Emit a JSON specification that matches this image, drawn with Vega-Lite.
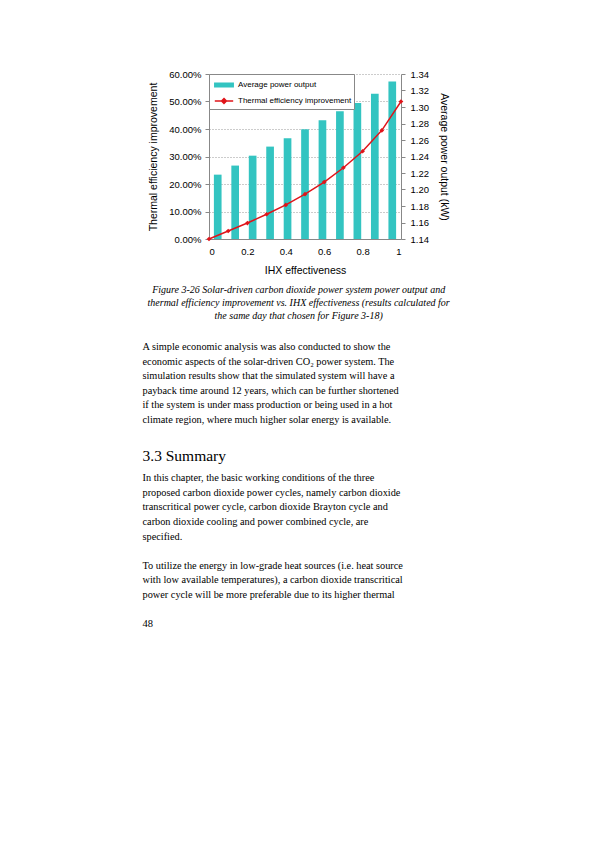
{
  "$schema": "https://vega.github.io/schema/vega-lite/v6.json",
  "background": "white",
  "padding": {"left": 142, "top": 69, "right": 0, "bottom": 0},
  "config": {"view": {"stroke": null}, "font": "Liberation Sans"},
  "datasets": {
    "ihx": [
      {"ihx": 0.0, "power": 1.218, "eff": 0.0},
      {"ihx": 0.1, "power": 1.229, "eff": 0.029},
      {"ihx": 0.2, "power": 1.241, "eff": 0.058},
      {"ihx": 0.3, "power": 1.252, "eff": 0.090},
      {"ihx": 0.4, "power": 1.262, "eff": 0.124},
      {"ihx": 0.5, "power": 1.273, "eff": 0.163},
      {"ihx": 0.6, "power": 1.284, "eff": 0.207},
      {"ihx": 0.7, "power": 1.295, "eff": 0.259},
      {"ihx": 0.8, "power": 1.305, "eff": 0.319},
      {"ihx": 0.9, "power": 1.316, "eff": 0.395},
      {"ihx": 1.0, "power": 1.331, "eff": 0.500}
    ],
    "page": [
      {"kind": "body", "line": 0, "text": "A simple economic analysis was also conducted to show the"},
      {"kind": "body", "line": 1, "text": "economic aspects of the solar-driven CO₂ power system. The"},
      {"kind": "body", "line": 2, "text": "simulation results show that the simulated system will have a"},
      {"kind": "body", "line": 3, "text": "payback time around 12 years, which can be further shortened"},
      {"kind": "body", "line": 4, "text": "if the system is under mass production or being used in a hot"},
      {"kind": "body", "line": 5, "text": "climate region, where much higher solar energy is available."},
      {"kind": "heading", "line": 7, "text": "3.3  Summary"},
      {"kind": "body", "line": 9, "text": "In this chapter, the basic working conditions of the three"},
      {"kind": "body", "line": 10, "text": "proposed carbon dioxide power cycles, namely carbon dioxide"},
      {"kind": "body", "line": 11, "text": "transcritical power cycle, carbon dioxide Brayton cycle and"},
      {"kind": "body", "line": 12, "text": "carbon dioxide cooling and power combined cycle, are"},
      {"kind": "body", "line": 13, "text": "specified."},
      {"kind": "body", "line": 15, "text": "To utilize the energy in low-grade heat sources (i.e. heat source"},
      {"kind": "body", "line": 16, "text": "with low available temperatures), a carbon dioxide transcritical"},
      {"kind": "body", "line": 17, "text": "power cycle will be more preferable due to its higher thermal"},
      {"kind": "page", "line": 19, "text": "48"}
    ]
  },
  "spacing": 21,
  "vconcat": [
    {
      "width": 192,
      "height": 165,
      "data": {"name": "ihx"},
      "title": {
        "text": [
          "Figure 3-26 Solar-driven carbon dioxide power system power output and",
          "thermal efficiency improvement vs. IHX effectiveness (results calculated for",
          "the same day that chosen for Figure 3-18)"
        ],
        "orient": "bottom",
        "anchor": "middle",
        "frame": "bounds",
        "font": "Liberation Serif",
        "fontStyle": "italic",
        "fontWeight": "normal",
        "fontSize": 10,
        "lineHeight": 13,
        "offset": 9,
        "color": "black"
      },
      "layer": [
        {
          "mark": {"type": "bar", "color": "#33c4c1"},
          "encoding": {
            "x": {
              "field": "ihx",
              "type": "ordinal",
              "axis": null,
              "scale": {"paddingInner": 0.56, "paddingOuter": 0.28}
            },
            "y": {
              "field": "power",
              "type": "quantitative",
              "scale": {"domain": [1.14, 1.34], "zero": false, "nice": false},
              "axis": {
                "orient": "right",
                "title": "Average power output (kW)",
                "values": [1.14, 1.16, 1.18, 1.2, 1.22, 1.24, 1.26, 1.28, 1.3, 1.32, 1.34],
                "format": ".2f",
                "grid": false,
                "domainColor": "#888",
                "tickColor": "#888",
                "tickSize": 4,
                "labelPadding": 5,
                "labelFontSize": 9.5,
                "labelColor": "black",
                "titleFontSize": 10.5,
                "titleFontWeight": "normal",
                "titleColor": "black",
                "titlePadding": 10
              }
            },
            "y2": {"datum": 1.14},
            "color": {
              "datum": "Average power output",
              "type": "nominal",
              "scale": {
                "domain": ["Average power output", "Thermal efficiency improvement"],
                "range": ["#33c4c1", "#e0141a"]
              },
              "legend": {
                "orient": "top-left",
                "offset": 0,
                "title": null,
                "labelFont": "Liberation Sans",
                "labelFontSize": 8,
                "labelColor": "black",
                "strokeColor": "#888",
                "fillColor": "white",
                "padding": 2,
                "rowPadding": 2,
                "symbolSize": 256,
                "symbolOffset": 4,
                "labelOffset": 5,
                "encode": {
                  "symbols": {
                    "update": {
                      "shape": {"signal": "datum.value === 'Average power output' ? 'M-1.15,-0.22H1.15V0.22H-1.15Z' : 'M-1.15,0H1.15M0,-0.3L0.3,0L0,0.3L-0.3,0Z'"},
                      "fill": {"scale": "color", "field": "value"},
                      "stroke": {"scale": "color", "field": "value"},
                      "strokeWidth": {"value": 1.5}
                    }
                  }
                }
              }
            }
          }
        },
        {
          "mark": {
            "type": "line",
            "strokeWidth": 1.5,
            "point": {"shape": "diamond", "size": 22, "filled": true}
          },
          "encoding": {
            "x": {
              "field": "ihx",
              "type": "quantitative",
              "scale": {"domain": [0, 1], "nice": false},
              "axis": {
                "values": [0, 0.2, 0.4, 0.6, 0.8, 1],
                "format": "~g",
                "title": "IHX effectiveness",
                "grid": false,
                "ticks": false,
                "domainColor": "#888",
                "labelPadding": 7,
                "labelFontSize": 9.5,
                "labelColor": "black",
                "titleFontSize": 10.5,
                "titleFontWeight": "normal",
                "titleColor": "black",
                "titlePadding": 10
              }
            },
            "y": {
              "field": "eff",
              "type": "quantitative",
              "scale": {"domain": [0, 0.6], "nice": false},
              "axis": {
                "orient": "left",
                "title": "Thermal efficiency improvement",
                "values": [0, 0.1, 0.2, 0.3, 0.4, 0.5, 0.6],
                "format": ".2%",
                "grid": true,
                "gridColor": "#999",
                "gridDash": [1, 2],
                "domainColor": "#888",
                "tickColor": "#888",
                "tickSize": 4,
                "labelPadding": 4,
                "labelFontSize": 9.5,
                "labelColor": "black",
                "titleFontSize": 10.5,
                "titleFontWeight": "normal",
                "titleColor": "black",
                "titlePadding": 10
              }
            },
            "color": {"datum": "Thermal efficiency improvement", "type": "nominal"}
          }
        }
      ],
      "resolve": {"scale": {"x": "independent", "y": "independent"}}
    },
    {
      "width": 311,
      "height": 277,
      "data": {"name": "page"},
      "encoding": {
        "x": {"value": 0},
        "y": {
          "field": "line",
          "type": "quantitative",
          "scale": {"domain": [0, 19], "reverse": true, "nice": false, "zero": false},
          "axis": null
        },
        "text": {"field": "text"}
      },
      "layer": [
        {
          "transform": [{"filter": "datum.kind === 'body'"}],
          "mark": {"type": "text", "font": "Liberation Serif", "fontSize": 10.3, "align": "left", "baseline": "middle", "dx": -66.5, "color": "black"}
        },
        {
          "transform": [{"filter": "datum.kind === 'heading'"}],
          "mark": {"type": "text", "font": "Liberation Serif", "fontSize": 15.5, "align": "left", "baseline": "middle", "dx": -66.5, "dy": 7, "color": "black"}
        },
        {
          "transform": [{"filter": "datum.kind === 'page'"}],
          "mark": {"type": "text", "font": "Liberation Serif", "fontSize": 10.5, "align": "left", "baseline": "middle", "dx": -66.5, "color": "black"}
        }
      ]
    }
  ]
}
